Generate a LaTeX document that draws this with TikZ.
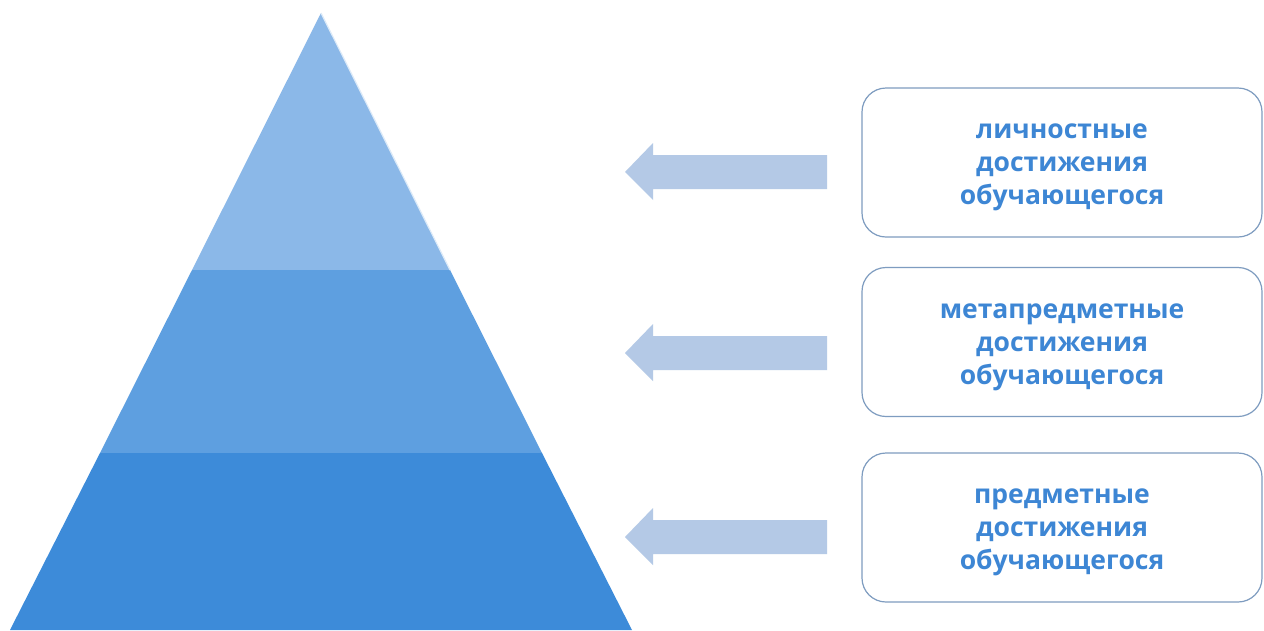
\documentclass[tikz,border=0pt]{standalone}
\usepackage{fontspec}
\setmainfont{Open Sans}
\definecolor{bandA}{HTML}{8BB8E8}
\definecolor{bandB}{HTML}{5E9FE0}
\definecolor{bandC}{HTML}{3D8BD9}
\definecolor{arrowc}{HTML}{B4C9E6}
\definecolor{boxline}{HTML}{7E9CC0}
\definecolor{txtc}{HTML}{3D86D4}
\begin{document}
\begin{tikzpicture}[x=1pt,y=-1pt,
  arr/.style={fill=arrowc,draw=none},
  lbox/.style={draw=boxline,line width=1.2pt,fill=white,rounded corners=24pt,
    minimum width=400pt,minimum height=149pt,inner sep=0pt},
  ltxt/.style={inner sep=0pt,align=center,text=txtc,
    font=\fontsize{26.5}{33}\selectfont\bfseries}]
\useasboundingbox (0,0) rectangle (1264,630);
\fill[white] (0,0) rectangle (1264,630);
% pyramid
\coordinate (apex) at (321,13);
\fill[bandA] (apex) -- (450,270) -- (192,270) -- cycle;
\fill[bandB] (192,270) -- (450,270) -- (542,453) -- (100,453) -- cycle;
\fill[bandC] (100,453) -- (542,453) -- (632,630) -- (10,630) -- cycle;
\draw[white!70!bandA,line width=1.2pt] (apex) -- (450,270);
% boxes
\node[lbox] (b1) at (1062,162.5) {};
\node[lbox] (b2) at (1062,342) {};
\node[lbox] (b3) at (1062,527.5) {};
\node[ltxt] (t1) at ([yshift=-5pt]b1.center) {личностные\\достижения\\обучающегося};
\node[ltxt] (t2) at ([yshift=-5pt]b2.center) {метапредметные\\достижения\\обучающегося};
\node[ltxt] (t3) at ([yshift=-5pt]b3.center) {предметные\\достижения\\обучающегося};
% arrows
\foreach \yc/\n in {172/a1,353/a2,537/a3}{
  \fill[arr] (827,\yc-17) -- (653,\yc-17) -- (653,\yc-29) -- (625,\yc) -- (653,\yc+28) -- (653,\yc+17) -- (827,\yc+17) -- cycle;
}
\end{tikzpicture}
\end{document}
